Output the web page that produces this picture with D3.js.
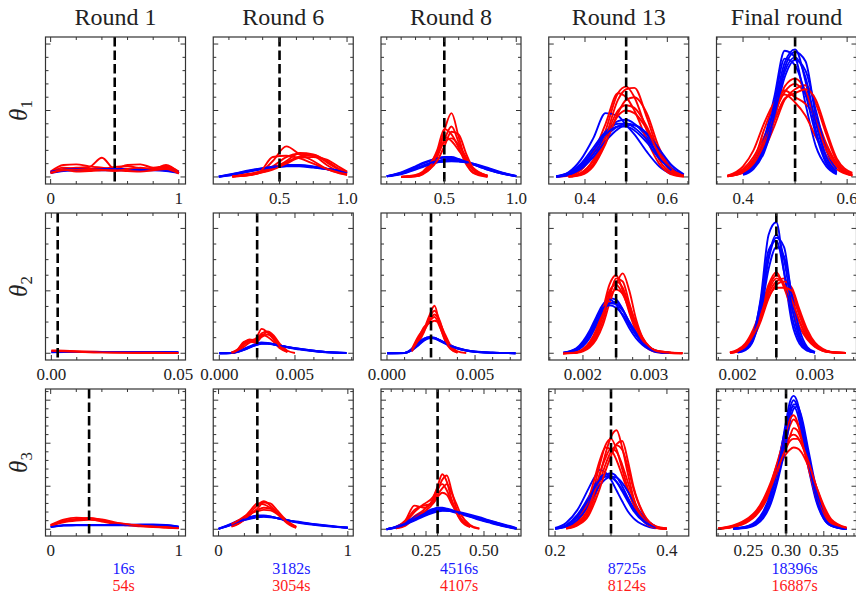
<!DOCTYPE html>
<html>
<meta charset="utf-8">
<style>
    body { margin: 0; background: #fff; }
    svg text { font-family: "Liberation Serif", "DejaVu Serif", serif; fill: #222; }
</style>
<body>
<div id="chart"></div>
<script src="https://d3js.org/d3.v7.min.js"></script>
<script>
// ---- labels ----
var roundTitles = ["Round 1", "Round 6", "Round 8", "Round 13", "Final round"];
var paramSubs = ["1", "2", "3"];
var trueValues = [0.5, 0.0025, 0.3];
var blueTimes = ["16s", "3182s", "4516s", "8725s", "18396s"];
var redTimes = ["54s", "3054s", "4107s", "8124s", "16887s"];

// ---- y axes, one per row ----
var yLimits = [[-0.53, 10.53], [-108, 2247], [-1.57, 32.6]];
var yMajorTicks = [[0, 5, 10], [0, 1000, 2000], [0, 10, 20, 30]];
var yMinorSteps = [1, 250, 2];

// ---- x axes, one per panel (row by row) ----
var xLimits = [
    [-0.04, 1.052], [0.009, 1.046], [0.06, 1.033], [0.312, 0.652], [0.349, 0.618],
    [-0.0023, 0.0528], [-0.0004, 0.00885], [-0.00034, 0.00761], [0.001484, 0.003596], [0.001726, 0.003537],
    [-0.0405, 1.0533], [-0.041, 1.0417], [0.056, 0.6595], [0.1887, 0.439], [0.2079, 0.3933]
];
var xTickValues = [
    [0, 1], [0.5, 1.0], [0.5, 1.0], [0.4, 0.6], [0.4, 0.6],
    [0, 0.05], [0, 0.005], [0, 0.005], [0.002, 0.003], [0.002, 0.003],
    [0, 1], [0, 1], [0.25, 0.5], [0.2, 0.4], [0.25, 0.3, 0.35]
];
var xTickLabels = [
    ["0", "1"], ["0.5", "1.0"], ["0.5", "1.0"], ["0.4", "0.6"], ["0.4", "0.6"],
    ["0.00", "0.05"], ["0.000", "0.005"], ["0.000", "0.005"], ["0.002", "0.003"], ["0.002", "0.003"],
    ["0", "1"], ["0", "1"], ["0.25", "0.50"], ["0.2", "0.4"], ["0.25", "0.30", "0.35"]
];
var xMinorSteps = [0.2, 0.125, 0.1, 0.05, 0.05, 0.01, 0.00125, 0.001, 0.00025, 0.00025, 0.2, 0.2, 0.05, 0.05, 0.01];

// ---- densities: theta_1 ----
var r1c1Grid = [0, 0.1, 0.2, 0.3, 0.4, 0.5, 0.6, 0.7, 0.8, 0.9, 1.0];
var r1c1Red = [
    [0.4, 0.9, 0.95, 0.8, 0.7, 0.6, 0.9, 0.95, 0.7, 0.8, 0.4],
    [0.3, 0.6, 0.7, 0.75, 1.45, 0.55, 0.5, 0.6, 0.65, 0.7, 0.3],
    [0.35, 0.7, 0.6, 0.5, 0.6, 0.75, 0.8, 0.65, 0.55, 0.6, 0.35],
    [0.3, 0.5, 0.55, 0.6, 0.55, 0.45, 0.6, 0.7, 0.6, 0.9, 0.3],
    [0.3, 0.55, 0.4, 0.45, 0.5, 0.5, 0.45, 0.4, 0.5, 0.6, 0.25]
];
var r1c1Blue = [
    [0.35, 0.5, 0.55, 0.55, 0.55, 0.55, 0.55, 0.55, 0.55, 0.5, 0.35],
    [0.3, 0.45, 0.5, 0.55, 0.5, 0.5, 0.5, 0.5, 0.5, 0.45, 0.3],
    [0.4, 0.55, 0.6, 0.6, 0.6, 0.6, 0.6, 0.55, 0.55, 0.5, 0.4]
];

var r1c2Grid = [0.05, 0.15, 0.25, 0.35, 0.45, 0.55, 0.65, 0.75, 0.85, 0.95, 1.0];
var r1c2Red = [
    [null, 0.02, 0.1, 0.3, 1.2, 2.3, 1.7, 1.2, 0.6, 0.25, 0.15],
    [null, 0.05, 0.15, 0.35, 0.8, 1.5, 1.75, 1.6, 0.9, 0.35, 0.2],
    [null, 0.03, 0.1, 0.3, 0.6, 1.2, 1.8, 1.7, 1.1, 0.5, 0.3],
    [null, 0.05, 0.2, 0.4, 0.7, 1.1, 1.55, 1.65, 1.2, 0.55, 0.35],
    [null, 0.04, 0.12, 0.3, 0.55, 1.0, 1.45, 1.5, 1.3, 0.7, 0.4],
    [null, 0.05, 0.15, 0.35, 1.5, 1.6, 1.4, 1.0, 0.6, 0.3, 0.2]
];
var r1c2Blue = [
    [0.02, 0.2, 0.4, 0.6, 0.75, 0.88, 0.85, 0.75, 0.6, 0.45, 0.3],
    [0.02, 0.15, 0.35, 0.55, 0.7, 0.8, 0.82, 0.75, 0.6, 0.45, 0.35],
    [0.03, 0.22, 0.45, 0.62, 0.78, 0.9, 0.9, 0.8, 0.62, 0.45, 0.32],
    [0.02, 0.18, 0.38, 0.58, 0.72, 0.82, 0.8, 0.7, 0.58, 0.42, 0.28]
];

var r1c3Grid = [0.1, 0.2, 0.3, 0.35, 0.4, 0.45, 0.5, 0.55, 0.6, 0.65, 0.7, 0.8, 0.9, 1.0];
var r1c3Red = [
    [null, 0, 0.05, 0.2, 0.6, 1.6, 3.5, 4.8, 3.0, 1.2, 0.3, 0, null, null],
    [null, 0, 0.1, 0.35, 0.9, 2.0, 3.6, 3.2, 2.2, 1.0, 0.35, 0.05, null, null],
    [null, 0, 0.05, 0.25, 0.7, 1.5, 2.8, 3.8, 2.6, 1.3, 0.5, 0.05, null, null],
    [null, 0.02, 0.15, 0.4, 1.0, 1.8, 2.6, 2.9, 2.4, 1.5, 0.6, 0.1, null, null],
    [null, 0, 0.08, 0.3, 0.8, 1.7, 3.0, 2.7, 2.0, 1.3, 0.6, 0.1, null, null],
    [null, 0, 0.1, 0.3, 0.6, 1.2, 2.3, 3.4, 3.2, 1.8, 0.7, 0.1, null, null]
];
var r1c3Blue = [
    [0.05, 0.3, 0.75, 1.0, 1.2, 1.4, 1.5, 1.5, 1.35, 1.15, 0.95, 0.55, 0.25, 0.05],
    [0.05, 0.25, 0.6, 0.8, 1.0, 1.1, 1.15, 1.18, 1.15, 1.1, 1.0, 0.7, 0.35, 0.08],
    [0.06, 0.35, 0.8, 1.05, 1.25, 1.4, 1.45, 1.4, 1.3, 1.15, 0.95, 0.55, 0.25, 0.05],
    [0.04, 0.2, 0.55, 0.75, 0.95, 1.1, 1.2, 1.25, 1.2, 1.1, 0.95, 0.65, 0.3, 0.06],
    [0.05, 0.28, 0.65, 0.85, 1.05, 1.2, 1.3, 1.3, 1.25, 1.15, 1.0, 0.6, 0.3, 0.07]
];

var r1c4Grid = [0.33, 0.36, 0.39, 0.42, 0.45, 0.48, 0.5, 0.52, 0.55, 0.58, 0.61, 0.64];
var r1c4Red = [
    [null, 0.05, 0.3, 1.3, 3.5, 6.3, 6.8, 6.0, 3.5, 1.3, 0.3, 0.05],
    [null, 0.03, 0.2, 1.0, 3.0, 5.8, 6.6, 6.7, 4.5, 1.8, 0.4, 0.08],
    [0, 0.1, 0.5, 1.8, 4.0, 6.3, 6.0, 5.0, 2.8, 1.0, 0.2, 0.02],
    [null, 0.02, 0.15, 0.8, 2.5, 4.8, 5.8, 6.0, 4.8, 2.2, 0.6, 0.1],
    [null, 0.05, 0.3, 1.2, 3.0, 5.0, 5.4, 5.2, 3.8, 1.8, 0.5, 0.15],
    [null, 0.03, 0.2, 0.9, 2.6, 4.6, 5.0, 4.8, 3.6, 1.7, 0.5, 0.1]
];
var r1c4Blue = [
    [0.05, 0.35, 1.3, 2.9, 4.8, 4.6, 3.9, 3.2, 1.9, 0.8, 0.2, null],
    [0.03, 0.2, 0.8, 1.9, 3.3, 4.2, 4.3, 4.0, 3.0, 1.6, 0.6, null],
    [0.02, 0.15, 0.7, 1.7, 3.0, 3.8, 4.0, 3.9, 3.2, 1.9, 0.7, 0.15],
    [0.04, 0.3, 1.0, 2.2, 3.4, 4.0, 4.0, 3.7, 2.8, 1.6, 0.5, null],
    [0.02, 0.2, 0.6, 1.5, 2.7, 3.6, 3.9, 3.9, 3.3, 2.1, 0.9, 0.2],
    [0.03, 0.25, 0.9, 2.0, 3.2, 3.8, 3.8, 3.5, 2.6, 1.4, 0.5, null]
];

var r1c5Grid = [0.37, 0.4, 0.42, 0.44, 0.46, 0.48, 0.5, 0.52, 0.54, 0.56, 0.58, 0.61];
var r1c5Red = [
    [0.1, 0.6, 1.5, 3.0, 4.8, 6.4, 7.0, 6.2, 4.3, 2.3, 0.9, 0.1],
    [0.05, 0.4, 1.2, 3.5, 5.5, 6.5, 6.0, 5.5, 4.5, 2.5, 1.0, 0.15],
    [0.1, 0.8, 2.0, 4.0, 5.6, 6.2, 5.6, 4.6, 3.0, 1.6, 0.6, 0.1],
    [0.05, 0.3, 0.8, 2.0, 3.8, 5.8, 6.6, 6.9, 5.5, 3.2, 1.2, 0.2],
    [0.08, 0.5, 1.3, 2.7, 4.5, 6.8, 7.4, 6.5, 4.2, 2.0, 0.8, 0.1],
    [0.05, 0.35, 1.0, 2.4, 4.2, 5.9, 6.3, 6.6, 5.8, 3.5, 1.4, 0.3]
];
var r1c5Blue = [
    [null, 0.3, 1.0, 2.8, 6.0, 9.5, 9.0, 5.5, 2.3, 0.8, 0.2, null],
    [null, 0.2, 0.7, 2.0, 4.8, 8.2, 9.4, 8.7, 4.5, 1.5, 0.4, null],
    [null, 0.3, 0.9, 2.4, 5.2, 8.6, 9.6, 7.2, 3.5, 1.2, 0.3, null],
    [null, 0.15, 0.6, 1.8, 4.3, 7.5, 8.8, 8.0, 5.0, 2.0, 0.6, null],
    [null, 0.25, 0.8, 2.2, 5.5, 8.9, 8.4, 6.2, 3.2, 1.0, 0.25, null],
    [null, 0.2, 0.7, 2.0, 4.6, 7.9, 9.0, 7.5, 4.0, 1.5, 0.4, null]
];

// ---- densities: theta_2 ----
var r2c1Grid = [0, 0.005, 0.01, 0.02, 0.03, 0.04, 0.05];
var r2c1Red = [
    [45, 40, 32, 22, 14, 10, 8],
    [30, 28, 22, 15, 10, 8, 6],
    [38, 32, 24, 14, 9, 7, 5]
];
var r2c1Blue = [
    [18, 20, 20, 20, 20, 20, 18],
    [16, 19, 19, 19, 19, 19, 16]
];

var r2c2Grid = [0, 0.0008, 0.0012, 0.0016, 0.002, 0.0024, 0.0028, 0.0032, 0.0036, 0.004, 0.0045, 0.005, 0.006, 0.007, 0.0084];
var r2c2Red = [
    [null, 10, 50, 130, 200, 230, 390, 330, 220, 100, 25, null, null, null, null],
    [null, 5, 40, 150, 220, 210, 280, 340, 250, 120, 30, null, null, null, null],
    [null, 10, 60, 180, 210, 180, 300, 260, 180, 80, 20, null, null, null, null],
    [null, 5, 30, 100, 170, 200, 320, 350, 280, 150, 40, 5, null, null, null],
    [null, 8, 50, 160, 190, 170, 260, 300, 230, 110, 25, null, null, null, null]
];
var r2c2Blue = [
    [0, 5, 25, 60, 100, 140, 165, 160, 145, 125, 100, 80, 45, 20, 3],
    [0, 4, 20, 50, 90, 125, 150, 150, 140, 120, 100, 80, 50, 22, 4],
    [0, 6, 30, 70, 110, 150, 175, 165, 145, 120, 95, 72, 40, 15, 2],
    [0, 5, 22, 55, 95, 130, 155, 155, 140, 122, 98, 78, 48, 20, 3]
];

var r2c3Grid = [0, 0.001, 0.0014, 0.0018, 0.0021, 0.0024, 0.0027, 0.003, 0.0033, 0.0036, 0.004, 0.0045, 0.005, 0.006, 0.0073];
var r2c3Red = [
    [null, null, 40, 200, 380, 600, 760, 450, 200, 70, 10, null, null, null, null],
    [null, null, 60, 280, 400, 520, 620, 500, 250, 90, 15, null, null, null, null],
    [null, null, 30, 180, 340, 560, 680, 520, 260, 100, 20, null, null, null, null],
    [null, null, 50, 250, 420, 480, 520, 470, 300, 130, 30, 5, null, null, null],
    [null, null, 40, 220, 360, 500, 580, 420, 220, 80, 10, null, null, null, null]
];
var r2c3Blue = [
    [0, 5, 60, 160, 230, 262, 250, 210, 165, 125, 80, 45, 25, 8, 1],
    [0, 3, 45, 130, 200, 240, 240, 210, 170, 130, 85, 50, 28, 9, 1],
    [0, 6, 70, 170, 235, 255, 235, 195, 155, 118, 75, 42, 22, 7, 1],
    [0, 4, 50, 140, 210, 248, 245, 205, 160, 120, 78, 45, 25, 8, 1]
];

var r2c4Grid = [0.0017, 0.0019, 0.002, 0.0021, 0.0022, 0.0023, 0.0024, 0.0025, 0.0026, 0.0027, 0.0028, 0.0029, 0.003, 0.0031, 0.0033, 0.0035];
var r2c4Red = [
    [0, 10, 40, 110, 260, 520, 900, 1200, 1150, 800, 450, 200, 80, 30, 10, 2],
    [0, 15, 60, 160, 350, 700, 1100, 1250, 1000, 650, 350, 150, 60, 20, 5, 0],
    [0, 8, 30, 90, 220, 450, 800, 1100, 1280, 1000, 550, 250, 100, 40, 15, 3],
    [0, 20, 70, 180, 380, 700, 1000, 1100, 950, 700, 420, 220, 100, 35, 8, 0],
    [0, 10, 45, 130, 300, 600, 950, 1150, 1050, 750, 420, 200, 90, 45, 15, 5],
    [0, 12, 50, 140, 320, 620, 900, 1020, 950, 760, 480, 250, 110, 40, 10, 1]
];
var r2c4Blue = [
    [5, 60, 150, 300, 520, 760, 880, 860, 700, 480, 300, 170, 80, 30, 5, null],
    [3, 40, 110, 240, 440, 660, 800, 820, 700, 500, 320, 180, 90, 35, 6, null],
    [8, 80, 190, 360, 580, 780, 860, 780, 600, 400, 240, 130, 60, 20, 3, null],
    [4, 50, 130, 270, 470, 690, 800, 790, 680, 500, 330, 200, 100, 40, 8, null],
    [5, 70, 170, 330, 540, 720, 770, 730, 620, 450, 290, 160, 80, 30, 5, null]
];

var r2c5Grid = [0.0019, 0.002, 0.0021, 0.0022, 0.0023, 0.0024, 0.0025, 0.0026, 0.0027, 0.0028, 0.0029, 0.003, 0.0031, 0.0032, 0.0034];
var r2c5Red = [
    [10, 40, 120, 330, 650, 1050, 1250, 1100, 800, 500, 250, 110, 40, 15, 2],
    [5, 30, 100, 280, 580, 950, 1150, 1200, 950, 600, 300, 120, 50, 20, 5],
    [15, 60, 160, 380, 700, 1100, 1300, 1050, 700, 420, 220, 100, 40, 15, 3],
    [5, 25, 80, 240, 520, 880, 1100, 1150, 1050, 700, 380, 170, 70, 25, 5],
    [8, 45, 130, 320, 620, 1000, 1200, 1100, 850, 520, 260, 120, 50, 20, 4],
    [6, 35, 110, 290, 560, 900, 1050, 1050, 1000, 650, 330, 150, 60, 20, 4]
];
var r2c5Blue = [
    [null, 20, 80, 280, 900, 1900, 2100, 1300, 500, 150, 40, 10, null, null, null],
    [null, 15, 60, 220, 700, 1500, 1850, 1700, 900, 300, 80, 15, null, null, null],
    [null, 25, 90, 300, 850, 1650, 1800, 1300, 600, 200, 50, 10, null, null, null],
    [null, 10, 50, 200, 650, 1350, 1700, 1550, 950, 380, 100, 20, null, null, null],
    [null, 20, 70, 260, 780, 1550, 1900, 1500, 750, 250, 60, 12, null, null, null]
];

// ---- densities: theta_3 ----
var r3c1Grid = [0, 0.1, 0.2, 0.3, 0.4, 0.5, 0.6, 0.7, 0.8, 0.9, 1.0];
var r3c1Red = [
    [0.9, 1.9, 2.4, 2.6, 2.1, 1.5, 1.1, 0.8, 0.6, 0.5, 0.3],
    [1.0, 2.2, 2.7, 2.4, 1.8, 1.2, 0.9, 0.7, 0.5, 0.4, 0.25],
    [0.8, 1.6, 2.0, 2.2, 2.0, 1.4, 1.0, 0.9, 0.7, 0.6, 0.35],
    [0.9, 1.8, 2.2, 2.5, 2.3, 1.6, 1.2, 0.9, 0.6, 0.4, 0.2]
];
var r3c1Blue = [
    [0.6, 0.95, 1.0, 1.0, 1.0, 1.0, 1.0, 1.0, 1.0, 0.95, 0.6],
    [0.5, 0.85, 0.9, 0.9, 0.9, 0.9, 0.9, 0.92, 0.95, 0.9, 0.55],
    [0.55, 0.9, 0.95, 1.0, 1.0, 1.05, 1.05, 1.1, 1.1, 1.0, 0.6]
];

var r3c2Grid = [0, 0.1, 0.15, 0.2, 0.25, 0.3, 0.35, 0.4, 0.45, 0.5, 0.55, 0.6, 0.7, 0.8, 0.9, 1.0];
var r3c2Red = [
    [null, 0.8, 1.5, 2.5, 4.0, 5.5, 6.5, 5.5, 4.0, 2.5, 1.2, 0.4, null, null, null, null],
    [null, 1.0, 1.8, 2.8, 4.5, 6.0, 5.8, 5.0, 3.8, 2.2, 1.0, 0.3, null, null, null, null],
    [null, 0.6, 1.2, 2.2, 3.5, 4.8, 6.2, 6.0, 4.5, 2.8, 1.5, 0.6, null, null, null, null],
    [null, 0.7, 1.3, 2.4, 3.6, 4.5, 5.0, 4.8, 3.8, 2.6, 1.4, 0.5, null, null, null, null],
    [null, 1.2, 2.0, 3.0, 3.8, 4.2, 4.5, 4.4, 3.6, 2.4, 1.3, 0.5, null, null, null, null]
];
var r3c2Blue = [
    [0.1, 1.2, 1.8, 2.3, 2.8, 3.1, 3.1, 2.9, 2.6, 2.3, 2.0, 1.7, 1.25, 0.9, 0.6, 0.35],
    [0.1, 1.0, 1.6, 2.1, 2.5, 2.8, 2.9, 2.8, 2.6, 2.3, 2.0, 1.8, 1.35, 1.0, 0.65, 0.4],
    [0.15, 1.3, 2.0, 2.5, 2.9, 3.2, 3.2, 3.0, 2.6, 2.2, 1.9, 1.6, 1.15, 0.8, 0.55, 0.3],
    [0.1, 1.1, 1.7, 2.2, 2.6, 2.9, 3.0, 2.9, 2.6, 2.3, 2.0, 1.7, 1.3, 0.95, 0.6, 0.38]
];

var r3c3Grid = [0.08, 0.12, 0.16, 0.2, 0.24, 0.28, 0.3, 0.32, 0.34, 0.36, 0.38, 0.4, 0.44, 0.48, 0.52, 0.56, 0.6, 0.64];
var r3c3Red = [
    [null, 0.2, 1.0, 3.0, 4.5, 7.0, 10.0, 12.8, 11.0, 7.0, 4.0, 2.0, 0.5, null, null, null, null, null],
    [null, 0.5, 2.0, 5.5, 5.0, 6.5, 9.0, 11.5, 12.5, 9.0, 5.0, 2.5, 0.6, null, null, null, null, null],
    [null, 0.3, 1.5, 4.0, 5.8, 7.5, 9.5, 10.5, 9.0, 6.5, 4.5, 2.5, 0.8, 0.1, null, null, null, null],
    [null, 0.2, 0.8, 2.5, 4.0, 6.0, 8.0, 9.5, 10.5, 8.5, 6.0, 3.5, 1.0, 0.2, null, null, null, null],
    [null, 0.4, 1.8, 4.5, 5.5, 6.0, 7.5, 8.5, 8.0, 6.0, 4.0, 2.2, 0.6, null, null, null, null, null]
];
var r3c3Blue = [
    [0, 0.5, 1.4, 2.6, 3.8, 4.7, 5.0, 5.0, 4.8, 4.5, 4.2, 3.8, 3.1, 2.4, 1.8, 1.2, 0.6, 0.1],
    [0, 0.4, 1.2, 2.2, 3.2, 4.0, 4.3, 4.4, 4.3, 4.2, 4.0, 3.7, 3.2, 2.6, 2.0, 1.4, 0.8, 0.2],
    [0, 0.6, 1.6, 2.8, 3.9, 4.5, 4.6, 4.6, 4.4, 4.1, 3.8, 3.5, 2.9, 2.2, 1.6, 1.0, 0.5, 0.1],
    [0, 0.4, 1.1, 2.0, 3.0, 3.8, 4.1, 4.3, 4.3, 4.2, 4.1, 3.9, 3.4, 2.8, 2.1, 1.5, 0.9, 0.25],
    [0, 0.5, 1.3, 2.4, 3.5, 4.3, 4.6, 4.7, 4.6, 4.4, 4.1, 3.7, 3.0, 2.3, 1.7, 1.1, 0.6, 0.15]
];

var r3c4Grid = [0.2, 0.22, 0.24, 0.26, 0.27, 0.28, 0.29, 0.3, 0.31, 0.32, 0.33, 0.34, 0.36, 0.38, 0.4];
var r3c4Red = [
    [null, 0.2, 1.2, 4.5, 8.0, 12.5, 17.5, 21.5, 23.0, 19.0, 13.0, 7.5, 2.0, 0.4, 0.1],
    [null, 0.3, 1.8, 6.0, 10.0, 15.0, 19.5, 21.0, 18.5, 14.0, 9.5, 5.8, 1.6, 0.3, 0.05],
    [null, 0.2, 1.0, 3.8, 7.0, 11.0, 15.0, 18.0, 19.5, 18.5, 14.5, 9.5, 3.0, 0.6, 0.1],
    [null, 0.4, 2.2, 7.0, 11.5, 16.0, 19.0, 18.5, 16.0, 12.5, 9.0, 6.0, 2.0, 0.4, 0.1],
    [null, 0.2, 1.4, 5.0, 8.5, 13.0, 16.5, 18.8, 18.0, 15.0, 11.0, 7.0, 2.2, 0.5, 0.2],
    [null, 0.15, 0.9, 3.2, 6.0, 9.5, 13.5, 17.0, 19.8, 20.5, 16.0, 10.0, 3.2, 0.7, 0.15]
];
var r3c4Blue = [
    [0.3, 1.5, 4.5, 9.5, 12.0, 13.8, 13.2, 11.5, 9.0, 6.5, 4.2, 2.6, 0.9, 0.2, null],
    [0.1, 0.8, 2.8, 6.5, 9.0, 11.2, 12.6, 13.0, 12.2, 10.0, 7.4, 5.0, 1.8, 0.4, null],
    [0.2, 1.0, 3.4, 7.5, 10.0, 12.0, 12.8, 12.4, 11.0, 8.8, 6.5, 4.3, 1.6, 0.4, null],
    [0.1, 0.6, 2.2, 5.5, 8.0, 10.2, 11.6, 12.2, 12.0, 10.8, 8.8, 6.5, 2.6, 0.7, null],
    [0.15, 0.9, 3.0, 7.0, 9.5, 11.5, 12.2, 12.0, 11.0, 9.2, 7.0, 4.8, 1.8, 0.45, null]
];

var r3c5Grid = [0.21, 0.23, 0.25, 0.26, 0.27, 0.28, 0.29, 0.3, 0.305, 0.31, 0.315, 0.32, 0.33, 0.34, 0.35, 0.36, 0.38];
var r3c5Red = [
    [0.1, 0.6, 2.0, 3.5, 6.0, 10.0, 15.5, 21.0, 24.0, 25.5, 24.5, 22.0, 15.0, 8.5, 4.0, 1.5, 0.2],
    [0.2, 0.9, 2.6, 4.2, 7.0, 11.0, 16.0, 20.0, 21.5, 22.0, 21.5, 20.0, 15.0, 9.5, 5.0, 2.0, 0.3],
    [0.1, 0.5, 1.8, 3.2, 5.5, 9.0, 14.0, 19.0, 21.5, 23.5, 23.0, 21.0, 15.5, 9.5, 4.5, 1.8, 0.25],
    [0.15, 0.8, 2.3, 4.0, 6.5, 10.0, 14.0, 17.5, 18.5, 19.0, 18.8, 18.0, 14.5, 10.0, 5.5, 2.3, 0.4],
    [0.1, 0.6, 2.0, 3.6, 6.2, 10.5, 16.5, 22.5, 25.5, 26.5, 25.0, 21.5, 14.0, 7.5, 3.5, 1.3, 0.2],
    [0.12, 0.7, 2.2, 3.8, 6.3, 9.8, 14.5, 18.8, 20.5, 21.0, 21.0, 20.0, 15.5, 10.0, 5.0, 2.0, 0.3]
];
var r3c5Blue = [
    [null, 0.1, 0.6, 1.5, 3.5, 7.5, 15.0, 25.0, 29.5, 31.0, 29.5, 25.0, 15.0, 7.0, 2.5, 0.8, 0.05],
    [null, 0.1, 0.5, 1.2, 3.0, 6.5, 13.0, 22.0, 26.5, 29.0, 29.0, 26.0, 17.0, 8.5, 3.0, 1.0, 0.1],
    [null, 0.2, 0.8, 1.8, 4.2, 8.5, 16.0, 24.0, 27.5, 28.5, 27.0, 23.0, 14.0, 6.5, 2.4, 0.8, 0.05],
    [null, 0.1, 0.4, 1.0, 2.6, 6.0, 12.0, 20.0, 25.0, 28.0, 28.5, 26.5, 18.0, 9.5, 3.5, 1.2, 0.1],
    [null, 0.15, 0.7, 1.6, 3.8, 8.0, 15.0, 23.5, 28.0, 30.0, 28.5, 24.5, 15.5, 7.5, 2.8, 0.9, 0.05]
];

var grids = [r1c1Grid, r1c2Grid, r1c3Grid, r1c4Grid, r1c5Grid,
             r2c1Grid, r2c2Grid, r2c3Grid, r2c4Grid, r2c5Grid,
             r3c1Grid, r3c2Grid, r3c3Grid, r3c4Grid, r3c5Grid];
var reds = [r1c1Red, r1c2Red, r1c3Red, r1c4Red, r1c5Red,
            r2c1Red, r2c2Red, r2c3Red, r2c4Red, r2c5Red,
            r3c1Red, r3c2Red, r3c3Red, r3c4Red, r3c5Red];
var blues = [r1c1Blue, r1c2Blue, r1c3Blue, r1c4Blue, r1c5Blue,
             r2c1Blue, r2c2Blue, r2c3Blue, r2c4Blue, r2c5Blue,
             r3c1Blue, r3c2Blue, r3c3Blue, r3c4Blue, r3c5Blue];

// ---- layout ----
var width = 856, height = 595;
var panelW = 140, panelH = 147;
var colLeft = [45.5, 213.25, 381, 548.75, 716.5];
var rowTop = [37, 213, 389];
var majorLen = 5, minorLen = 3;
var frameColor = "#333";

var svg = d3.select("#chart").append("svg")
    .attr("width", width)
    .attr("height", height);

function minorTicks(lim, step, majors) {
    var out = [];
    var k = Math.ceil(lim[0] / step - 1e-9);
    for (; k * step <= lim[1] + 1e-12; k++) {
        var v = k * step;
        if (!majors.some(function (m) { return Math.abs(m - v) < step * 1e-3; })) out.push(v);
    }
    return out;
}

// titles
svg.selectAll("text.title")
    .data(roundTitles)
    .enter().append("text")
    .attr("class", "title")
    .attr("x", function (d, i) { return colLeft[i] + panelW / 2; })
    .attr("y", 24.5)
    .attr("text-anchor", "middle")
    .style("font-size", "24px")
    .text(function (d) { return d; });

// row labels
paramSubs.forEach(function (s, r) {
    var t = svg.append("text")
        .attr("transform", "translate(27," + (rowTop[r] + panelH / 2) + ") rotate(-90)")
        .attr("text-anchor", "middle")
        .style("font-size", "25px");
    t.append("tspan").style("font-style", "italic").text("θ");
    t.append("tspan").attr("dy", 5).style("font-size", "17px").text(s);
});

// time labels
blueTimes.forEach(function (s, i) {
    var cx = colLeft[i] + panelW / 2 + 8;
    svg.append("text").attr("x", cx).attr("y", 573.5).attr("text-anchor", "middle")
        .style("font-size", "16px").style("fill", "#1a1aff").text(s);
    svg.append("text").attr("x", cx).attr("y", 591).attr("text-anchor", "middle")
        .style("font-size", "16px").style("fill", "#ff1a1a").text(redTimes[i]);
});

var defs = svg.append("defs");

for (var r = 0; r < 3; r++) {
    for (var c = 0; c < 5; c++) {
        var p = r * 5 + c;
        var x0 = colLeft[c], y0 = rowTop[r];
        var x = d3.scaleLinear().domain(xLimits[p]).range([x0, x0 + panelW]);
        var y = d3.scaleLinear().domain(yLimits[r]).range([y0 + panelH, y0]);

        defs.append("clipPath").attr("id", "clip" + p)
            .append("rect").attr("x", x0).attr("y", y0).attr("width", panelW).attr("height", panelH);

        var g = svg.append("g");
        var plot = g.append("g").attr("clip-path", "url(#clip" + p + ")");
        var grid = grids[p];
        var line = d3.line()
            .defined(function (d) { return d[1] != null; })
            .x(function (d) { return x(d[0]); })
            .y(function (d) { return y(d[1]); })
            .curve(d3.curveMonotoneX);

        var n = Math.max(reds[p].length, blues[p].length);
        for (var k = 0; k < n; k++) {
            [[reds[p][k], "#ff0000"], [blues[p][k], "#0000ff"]].forEach(function (pair) {
                if (!pair[0]) return;
                var pts = grid.map(function (gx, j) { return [gx, pair[0][j]]; });
                plot.append("path")
                    .attr("d", line(pts))
                    .attr("fill", "none")
                    .attr("stroke", pair[1])
                    .attr("stroke-width", 1.9)
                    .attr("stroke-linejoin", "round");
            });
        }

        // true value
        plot.append("line")
            .attr("x1", x(trueValues[r])).attr("x2", x(trueValues[r]))
            .attr("y1", y0).attr("y2", y0 + panelH)
            .attr("stroke", "#000")
            .attr("stroke-width", 2.6)
            .attr("stroke-dasharray", "9.5,4");

        // ticks
        var tg = g.append("g").attr("stroke", frameColor).attr("stroke-width", 1);
        var xMaj = xTickValues[p];
        var xMin = minorTicks(xLimits[p], xMinorSteps[p], xMaj);
        var yMaj = yMajorTicks[r];
        var yMin = minorTicks(yLimits[r], yMinorSteps[r], yMaj);
        function xt(vals, len) {
            vals.forEach(function (v) {
                var px = x(v);
                tg.append("line").attr("x1", px).attr("x2", px).attr("y1", y0 + panelH).attr("y2", y0 + panelH - len);
                tg.append("line").attr("x1", px).attr("x2", px).attr("y1", y0).attr("y2", y0 + len);
            });
        }
        function yt(vals, len) {
            vals.forEach(function (v) {
                var py = y(v);
                tg.append("line").attr("x1", x0).attr("x2", x0 + len).attr("y1", py).attr("y2", py);
                tg.append("line").attr("x1", x0 + panelW).attr("x2", x0 + panelW - len).attr("y1", py).attr("y2", py);
            });
        }
        xt(xMaj, majorLen); xt(xMin, minorLen);
        yt(yMaj, majorLen); yt(yMin, minorLen);

        g.append("rect")
            .attr("x", x0).attr("y", y0).attr("width", panelW).attr("height", panelH)
            .attr("fill", "none").attr("stroke", frameColor).attr("stroke-width", 1.2);

        g.selectAll("text.xlab")
            .data(xMaj)
            .enter().append("text")
            .attr("x", function (d) { return x(d); })
            .attr("y", y0 + panelH + 19.5)
            .attr("text-anchor", "middle")
            .style("font-size", "17px")
            .text(function (d, i) { return xTickLabels[p][i]; });
    }
}
</script>
</body>
</html>
